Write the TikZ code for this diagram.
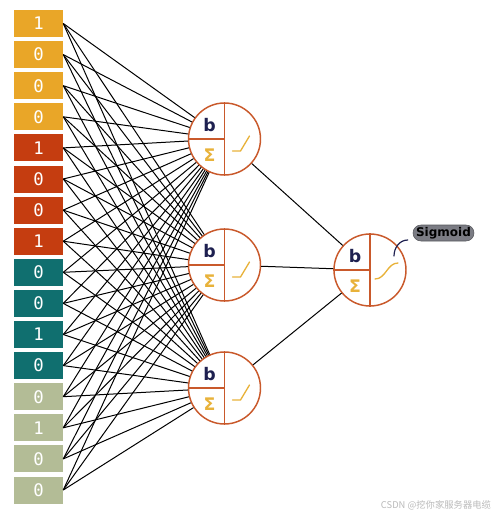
\documentclass[tikz,border=0pt]{standalone}
\usepackage{fontspec}
\setmainfont{DejaVu Sans}
\newfontfamily\digitfont{DejaVu Sans Mono}
\newfontfamily\cjkfont{Noto Sans CJK SC}
\usetikzlibrary{positioning,calc}
\definecolor{inamber}{HTML}{E9A628}
\definecolor{inred}{HTML}{C53D10}
\definecolor{inteal}{HTML}{106F6F}
\definecolor{insage}{HTML}{B3BC96}
\definecolor{rim}{HTML}{C9592B}
\definecolor{glyph}{HTML}{E8B23A}
\definecolor{navy}{HTML}{1E2050}
\definecolor{pill}{HTML}{7B7C84}

\begin{document}
\begin{tikzpicture}[
    x=0.75pt, y=-0.75pt,
    inbox/.style={rectangle, minimum width=36.75pt, minimum height=20.25pt,
                inner sep=0pt, text=white, font=\digitfont\fontsize{13}{13}\selectfont},
    neuron/.style={circle, draw=rim, line width=1.1pt, minimum size=54pt, inner sep=0pt},
    wire/.style={line width=0.75pt, black},
    split/.style={draw=rim, line width=1pt},
    act/.style={draw=glyph, line width=1pt, line cap=round},
    tag/.style={font=\bfseries\fontsize{13}{13}\selectfont, inner sep=0pt}
]
\useasboundingbox (0,0) rectangle (500,518);

% input bits
\foreach \d/\c [count=\i] in {1/inamber,0/inamber,0/inamber,0/inamber,
                              1/inred,0/inred,0/inred,1/inred,
                              0/inteal,0/inteal,1/inteal,0/inteal,
                              0/insage,1/insage,0/insage,0/insage} {
  \pgfmathsetmacro\yy{23.5+31.1*(\i-1)}
  \node[inbox, fill=\c] (x\i) at (38.5,\yy) {\d};
}

% neurons
\node[neuron] (h1) at (224.5,139) {};
\node[neuron] (h2) at (224.5,265) {};
\node[neuron] (h3) at (224.5,388) {};
\node[neuron] (out) at (370,270) {};

\foreach \i in {1,...,16}
  \foreach \j in {1,2,3}
    \draw[wire] (x\i.east) -- (h\j);
\foreach \j in {1,2,3}
  \draw[wire] (h\j) -- (out);

% inside each neuron
\foreach \n in {h1,h2,h3,out} {
  \draw[split] (\n.north) -- (\n.south);
  \draw[split] (\n.west) -- (\n.center);
  \node[tag, text=navy] at ($(\n.center)+(-15,-14)$) {b};
  \node[tag, text=glyph] at ($(\n.center)+(-15,16)$) {Σ};
}
\foreach \n in {h1,h2,h3}
  \draw[act] ($(\n.center)+(8,12)$) -- ++(8,0) -- ++(9,-15);
\draw[act] ($(out.center)+(5,9)$) to[out=0,in=180] ($(out.center)+(28,-7)$);

% Annotations
\node[fill=pill, draw=pill!70!black, rounded corners=6pt, minimum width=45.75pt,
      minimum height=12pt, inner sep=1pt, font=\bfseries\fontsize{9}{9}\selectfont] (sig) at (443.5,233) {Sigmoid};
\coordinate (tip) at ($(out.center)+(24,-14)$);
\draw[navy, line width=0.9pt, line cap=round] ($(sig.west)+(-5,7)$) to[out=180,in=90] (tip);

\node[text=gray!55, font=\cjkfont\fontsize{7}{7}\selectfont] (mark) at (436,505) {CSDN @挖你家服务器电缆};
\end{tikzpicture}
\end{document}
